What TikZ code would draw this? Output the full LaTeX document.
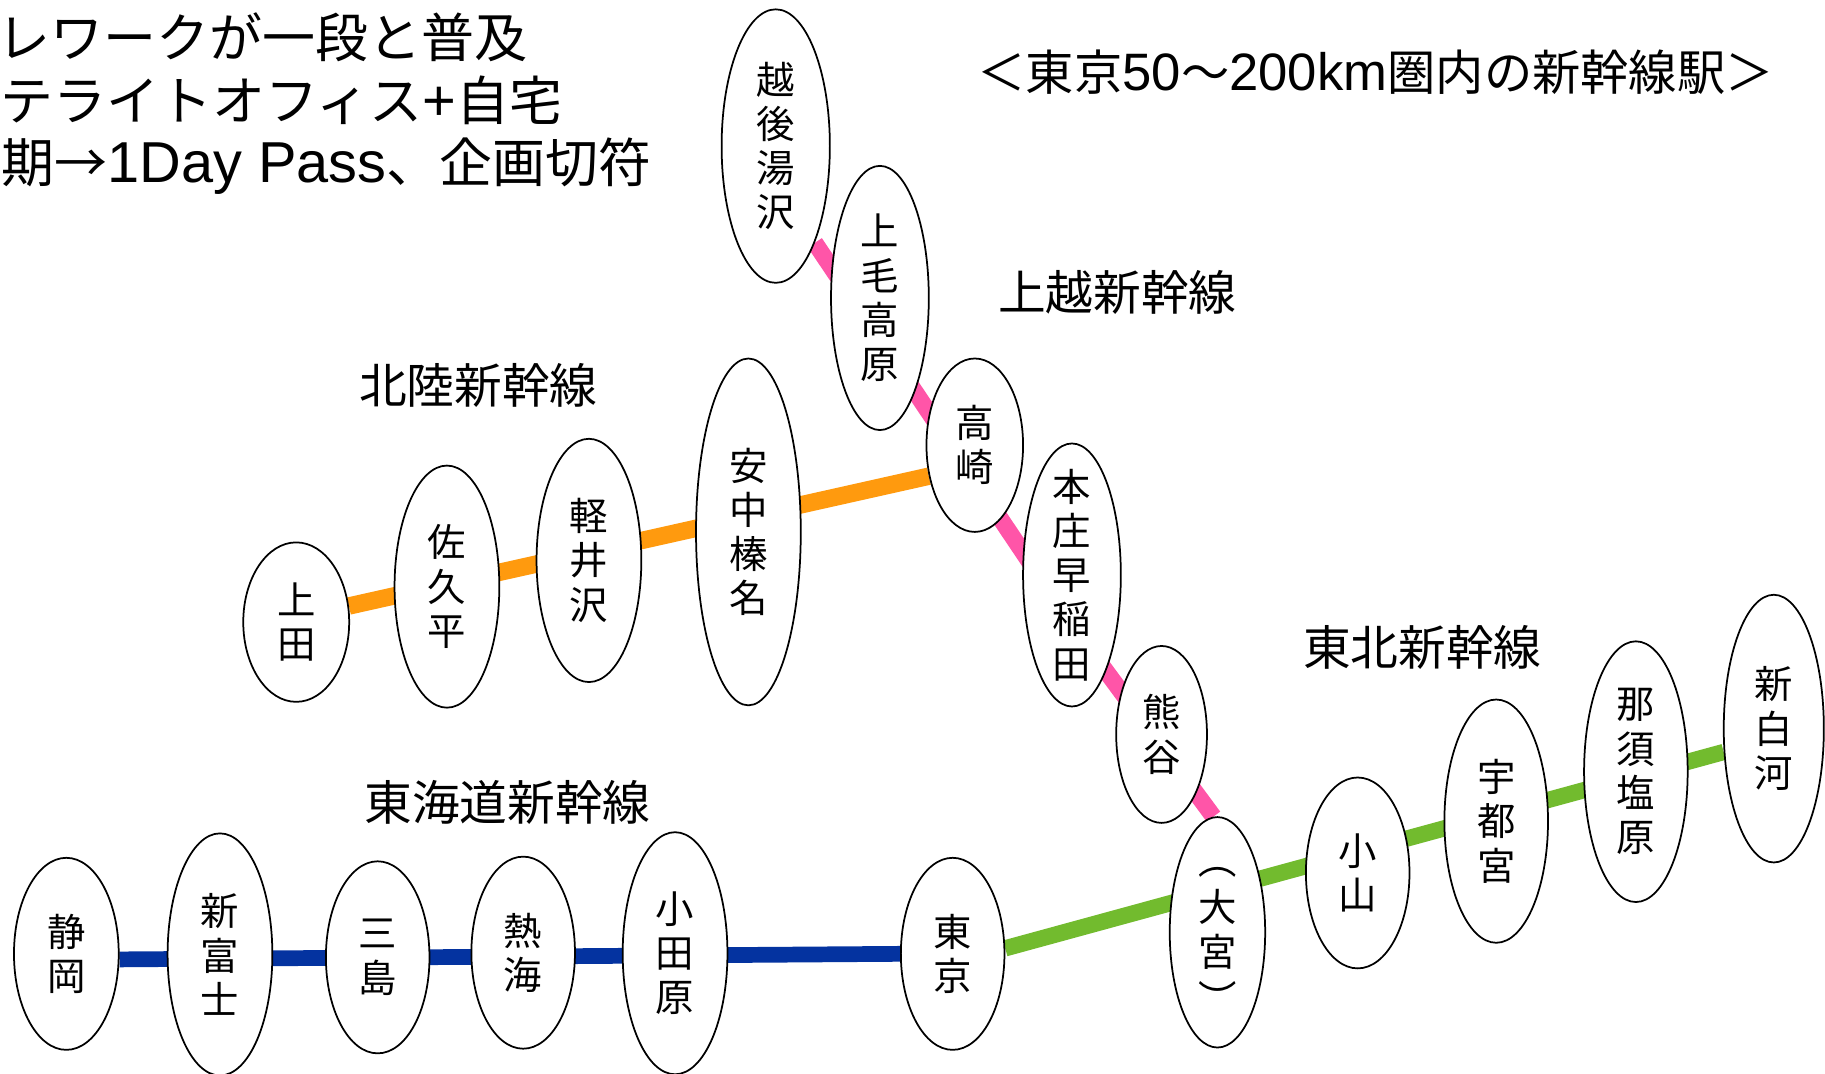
\documentclass[tikz,border=0pt]{standalone}
\usepackage{fontspec}
\setmainfont{Noto Sans CJK JP}
\newfontfamily\latinpart[Scale=1.09]{Liberation Sans}
\usetikzlibrary{shapes,backgrounds}

\definecolor{JoetsuPink}{HTML}{FF55A8}
\definecolor{HokurikuOrange}{HTML}{FF9A0E}
\definecolor{TohokuGreen}{HTML}{72BB2E}
\definecolor{TokaidoBlue}{HTML}{0433A0}

\tikzset{
  station/.style={draw, ellipse, line width=1.5pt, fill=white, inner xsep=0pt, inner ysep=-40pt, align=center, font=\fontsize{33}{38}\selectfont},
  heading/.style={inner sep=0pt, font=\fontsize{41}{48}\selectfont},
  topline/.style={inner sep=0pt, anchor=west, font=\fontsize{45.5}{54}\selectfont},
  railline/.style={line width=#1},
}

\begin{document}
\begin{tikzpicture}[x=1pt, y=-1pt]
\useasboundingbox (0,0) rectangle (1568,922);

\node[topline] (noteA) at (-2,32) {レワークが一段と普及};
\node[topline] (noteB) at (0,86) {テライトオフィス{\latinpart +}自宅};
\node[topline] (noteC) at (1,143) {期→{\latinpart 1Day Pass}、企画切符};
\node[inner sep=0pt, font=\fontsize{41.5}{48}\selectfont] (title) at (1182,62) {＜東京{\latinpart 50}〜{\latinpart 200km}圏内の新幹線駅＞};

\node[heading] (joetsuname) at (960,251) {上越新幹線};
\node[heading] (hokurikuname) at (411,331) {北陸新幹線};
\node[heading] (tohokuname) at (1222,556) {東北新幹線};
\node[heading] (tokaidoname) at (436,689) {東海道新幹線};

\node[station, minimum width=93pt, minimum height=235pt] (echigo) at (666.5,125.5) {越\\後\\湯\\沢};
\node[station, minimum width=84pt, minimum height=227pt] (jomo) at (756,256) {上\\毛\\高\\原};
\node[station, minimum width=83pt, minimum height=149pt] (takasaki) at (837.5,382.5) {高\\崎};
\node[station, minimum width=84pt, minimum height=226pt] (honjo) at (921,494) {本\\庄\\早\\稲\\田};
\node[station, minimum width=78pt, minimum height=152pt] (kumagaya) at (998,631) {熊\\谷};
\node[station, minimum width=82pt, minimum height=198pt] (omiya) at (1046,801) {\rule{0pt}{20pt}︵\\[3pt]大\\宮\\[3pt]︶};

\node[station, minimum width=89pt, minimum height=164pt] (oyama) at (1166.5,750) {小\\山};
\node[station, minimum width=89pt, minimum height=209pt] (utsunomiya) at (1285.5,705.5) {宇\\都\\宮};
\node[station, minimum width=89pt, minimum height=224pt] (nasu) at (1405.5,663) {那\\須\\塩\\原};
\node[station, minimum width=86pt, minimum height=230pt] (shirakawa) at (1524,626) {新\\白\\河};

\node[station, minimum width=91pt, minimum height=137pt] (ueda) at (254.5,534.5) {上\\田};
\node[station, minimum width=90pt, minimum height=208pt] (saku) at (384,504) {佐\\久\\平};
\node[station, minimum width=90pt, minimum height=209pt] (karuizawa) at (506,481.5) {軽\\井\\沢};
\node[station, minimum width=90pt, minimum height=298pt] (annaka) at (643,457) {安\\中\\榛\\名};

\node[station, minimum width=90pt, minimum height=165pt] (shizuoka) at (57,819.5) {静\\岡};
\node[station, minimum width=90pt, minimum height=208pt] (fuji) at (189,820) {新\\富\\士};
\node[station, minimum width=89pt, minimum height=165pt] (mishima) at (324.5,822.5) {三\\島};
\node[station, minimum width=89pt, minimum height=165pt] (atami) at (449.5,818.5) {熱\\海};
\node[station, minimum width=90pt, minimum height=208pt] (odawara) at (580,819) {小\\田\\原};
\node[station, minimum width=89pt, minimum height=165pt] (tokyo) at (818.5,819.5) {東\\京};

\coordinate (joetsubend) at (921,537);

\begin{pgfonlayer}{background}
\draw[railline=14.5pt, JoetsuPink] (echigo.-68) -- (joetsubend) -- (omiya.92);
\draw[railline=15pt, HokurikuOrange] (ueda.17) -- (takasaki.-146);
\draw[railline=13.5pt, TokaidoBlue] (shizuoka.-6) -- (tokyo.180);
\draw[railline=14pt, TohokuGreen] (tokyo.6) -- (shirakawa.205);
\end{pgfonlayer}

\end{tikzpicture}
\end{document}
